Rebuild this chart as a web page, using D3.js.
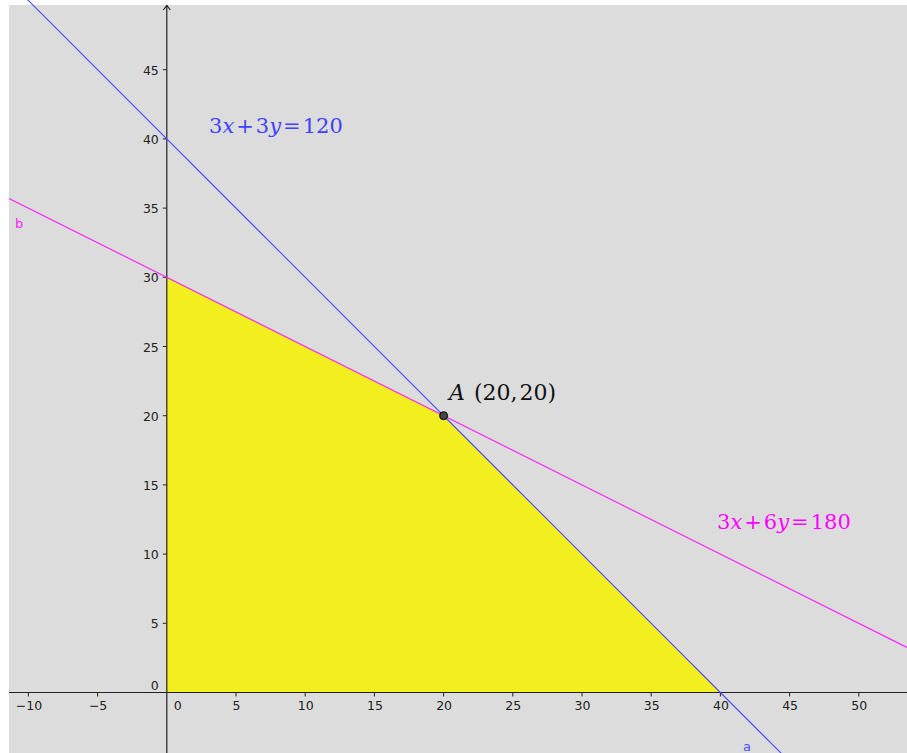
<!DOCTYPE html>
<html><head><meta charset="utf-8">
<script src="https://cdn.jsdelivr.net/npm/d3@7"></script>
<style>body{margin:0;background:#fff;}svg{display:block;}</style>
</head><body>
<script>
// Data
const xTicks = [-10,-5,0,5,10,15,20,25,30,35,40,45,50];
const yTicks = [0,5,10,15,20,25,30,35,40,45];
const lineA = {a:3, b:3, c:120, name:"a", label:["3","x","+","3","y","=","120"]};
const lineB = {a:3, b:6, c:180, name:"b", label:["3","x","+","6","y","=","180"]};
const feasible = [[0,0],[0,30],[20,20],[40,0]];
const pointA = {name:"A", x:20, y:20};

const W = 907, H = 753;
const svg = d3.select("body").append("svg").attr("width", W).attr("height", H);
const padLeft = 9, padTop = 5;
const k = 13.84, x0 = 166.8, y0 = 692.5;
const x = d3.scaleLinear().domain([(padLeft - x0)/k, (W - x0)/k]).range([padLeft, W]);
const y = d3.scaleLinear().domain([(y0 - H)/k, (y0 - padTop)/k]).range([H, padTop]);

svg.append("rect").attr("x", padLeft).attr("y", padTop).attr("width", W-padLeft).attr("height", H-padTop).attr("fill", "#dcdcdc");

const g = svg.append("g");
// feasible region
g.append("path").attr("d", d3.line().x(d=>x(d[0])).y(d=>y(d[1]))(feasible) + "Z")
  .attr("fill", "#f3ef1e").attr("stroke", "none");

// axes
const [xmin, xmax] = x.domain(), [ymin, ymax] = y.domain();
g.append("line").attr("x1", x(xmin)).attr("x2", x(xmax)).attr("y1", y(0)).attr("y2", y(0)).attr("stroke", "#222").attr("stroke-width", 1.2);
g.append("line").attr("x1", x(0)).attr("x2", x(0)).attr("y1", y(ymin)).attr("y2", y(ymax)).attr("stroke", "#222").attr("stroke-width", 1.2);
// arrow at top of y-axis
g.append("path").attr("d", `M${x(0)-3.5},${y(ymax)+5} L${x(0)},${y(ymax)+0.5} L${x(0)+3.5},${y(ymax)+5}`).attr("fill","none").attr("stroke","#222").attr("stroke-width",1.2);

// x ticks
xTicks.forEach(t => {
  if (t !== 0) g.append("line").attr("x1", x(t)).attr("x2", x(t)).attr("y1", y(0)).attr("y2", y(0)+4).attr("stroke", "#222");
  g.append("text").attr("x", t === 0 ? x(0)+11 : x(t)+0.5).attr("y", y(0)+17.5)
    .attr("text-anchor", "middle").attr("font-family", "DejaVu Sans, sans-serif").attr("font-size", 12.5).attr("fill", "#222")
    .text(t < 0 ? "\u2212" + Math.abs(t) : t);
});
// y ticks
yTicks.forEach(t => {
  if (t !== 0) g.append("line").attr("x1", x(0)-4).attr("x2", x(0)).attr("y1", y(t)).attr("y2", y(t)).attr("stroke", "#222");
  g.append("text").attr("x", x(0)-8).attr("y", t === 0 ? y(0)-3 : y(t)+5)
    .attr("text-anchor", "end").attr("font-family", "DejaVu Sans, sans-serif").attr("font-size", 12.5).attr("fill", "#222")
    .text(t);
});

// lines
function drawLine(L, color) {
  const pts = [xmin, xmax].map(xv => [xv, (L.c - L.a*xv)/L.b]);
  g.append("line").attr("x1", x(pts[0][0])).attr("y1", y(pts[0][1])).attr("x2", x(pts[1][0])).attr("y2", y(pts[1][1]))
    .attr("stroke", color).attr("stroke-width", 1.1);
}
drawLine(lineA, "#4b4bff");
drawLine(lineB, "#ff1aff");

// line name labels
g.append("text").attr("x", 743).attr("y", 751).attr("font-family","DejaVu Sans, sans-serif").attr("font-size",13).attr("fill","#4b4bff").text(lineA.name);
g.append("text").attr("x", 15).attr("y", 228).attr("font-family","DejaVu Sans, sans-serif").attr("font-size",13).attr("fill","#ff1aff").text(lineB.name);

// equation labels
function eqLabel(parts, px, py, color) {
  const t = g.append("text").attr("x", px).attr("y", py).attr("font-family", "DejaVu Serif, serif").attr("font-size", 21).attr("fill", color);
  parts.forEach((p, i) => {
    const op = (p === "+" || p === "=");
    const prevOp = i > 0 && (parts[i-1] === "+" || parts[i-1] === "=");
    t.append("tspan").attr("dx", op || prevOp ? 2 : 0)
      .attr("font-style", (p === "x" || p === "y") ? "italic" : "normal").text(p);
  });
}
eqLabel(lineA.label, 209, 133, "#4040ff");
eqLabel(lineB.label, 717, 529, "#ff00ff");

// point A
g.append("circle").attr("cx", x(pointA.x)).attr("cy", y(pointA.y)).attr("r", 4).attr("fill", "#444").attr("stroke", "#000").attr("stroke-width", 1);
const tA = g.append("text").attr("x", 449).attr("y", 400).attr("font-family", "DejaVu Serif, serif").attr("font-size", 22).attr("fill", "#111");
tA.append("tspan").attr("font-style","italic").text(pointA.name);
tA.append("tspan").attr("dx", 2).text(" (" + pointA.x + ",");
tA.append("tspan").attr("dx", 2).text(pointA.y + ")");
</script>
</body></html>
